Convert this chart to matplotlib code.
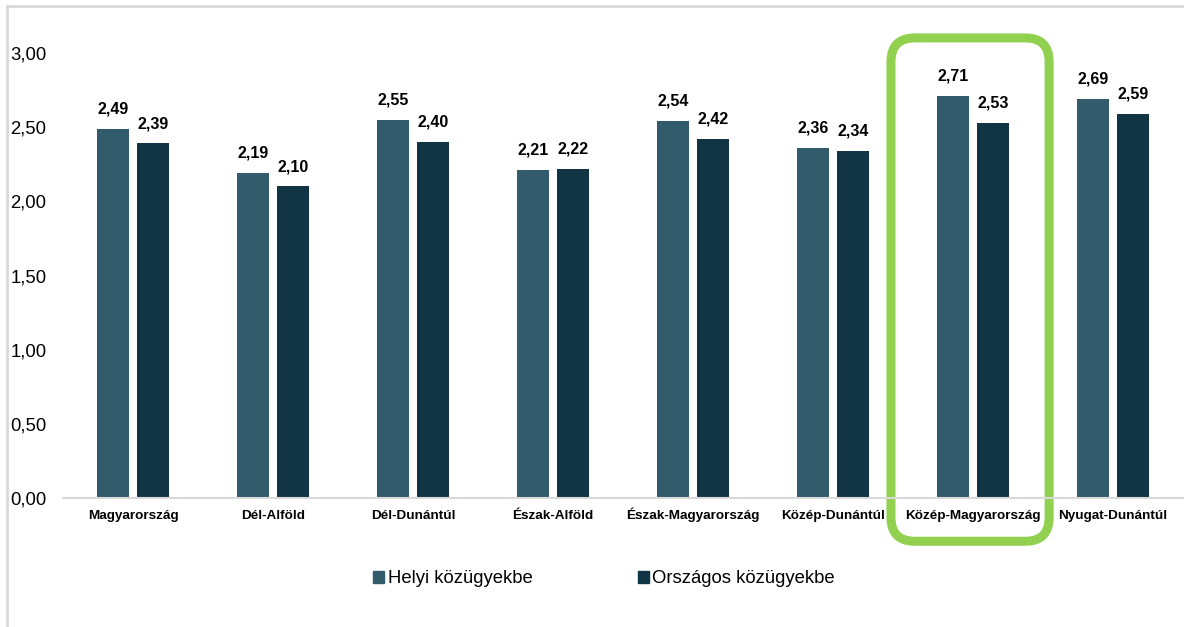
import matplotlib.pyplot as plt
import numpy as np
from matplotlib.patches import FancyBboxPatch, Patch
from matplotlib.lines import Line2D

plt.rcParams['font.family'] = ['Liberation Sans', 'DejaVu Sans']

regions = ['Magyarország', 'Dél-Alföld', 'Dél-Dunántúl', 'Észak-Alföld',
           'Észak-Magyarország', 'Közép-Dunántúl', 'Közép-Magyarország',
           'Nyugat-Dunántúl']
helyi = [2.49, 2.19, 2.55, 2.21, 2.54, 2.36, 2.71, 2.69]
orszagos = [2.39, 2.10, 2.40, 2.22, 2.42, 2.34, 2.53, 2.59]
series_names = ['Helyi közügyekbe', 'Országos közügyekbe']
highlight = 'Közép-Magyarország'

C1 = '#325B6C'
C2 = '#113545'
GREEN = '#92D050'
LINE = '#D9D9D9'

fig = plt.figure(figsize=(11.84, 6.27), dpi=100)
ax = fig.add_axes([0.0532, 0.2057, 0.9458, 0.7098])

x = np.arange(len(regions))
w = 0.229
off = 0.143
b1 = ax.bar(x - off, helyi, w, color=C1)
b2 = ax.bar(x + off, orszagos, w, color=C2)

for bars, vals in [(b1, helyi), (b2, orszagos)]:
    for b, v in zip(bars, vals):
        ax.annotate(f'{v:.2f}'.replace('.', ','), (b.get_x() + b.get_width() / 2, v),
                    xytext=(0, 11), textcoords='offset points', ha='center',
                    va='baseline', fontsize=11.5, fontweight='bold', color='black')

ax.set_xlim(-0.5, len(regions) - 0.5)
ax.set_ylim(0, 3.0)
ax.set_yticks(np.arange(0, 3.01, 0.5))
ax.set_yticklabels([f'{t:.2f}'.replace('.', ',') for t in np.arange(0, 3.01, 0.5)],
                   fontsize=13.3)
ax.set_xticks(x)
ax.set_xticklabels([])
ax.tick_params(axis='y', length=0, pad=12)
ax.tick_params(axis='x', length=0)
for xi, name in zip(x, regions):
    ax.annotate(name, (xi, 0), xytext=(0, -15), textcoords='offset points',
                ha='center', va='baseline', fontsize=9.7, fontweight='bold')
for s in ['top', 'right', 'left']:
    ax.spines[s].set_visible(False)
ax.spines['bottom'].set_color(LINE)
ax.spines['bottom'].set_linewidth(1.5)

# green highlight box
i = regions.index(highlight)
hw = 0.565
r = 0.17
box = FancyBboxPatch((i - 0.02 - hw + r, -0.30 + r), 2 * hw - 2 * r, 3.41 - 2 * r,
                     boxstyle=f'round,pad={r}', mutation_aspect=0.95,
                     fill=False, edgecolor=GREEN, linewidth=6.5, clip_on=False)
ax.add_patch(box)

handles = [Patch(color=C1), Patch(color=C2)]
fig.legend(handles, series_names, loc='center', bbox_to_anchor=(0.51, 0.0766),
           ncol=2, frameon=False, fontsize=13.3, handlelength=0.6, handleheight=0.6,
           handletextpad=0.2, columnspacing=5.7)

# outer border (left and top)
fig.add_artist(Line2D([0.0055, 0.0055], [0.0, 0.991], color=LINE, lw=2,
                      transform=fig.transFigure))
fig.add_artist(Line2D([0.0055, 1.0], [0.991, 0.991], color=LINE, lw=2,
                      transform=fig.transFigure))

fig.savefig('out.png', dpi=100)
